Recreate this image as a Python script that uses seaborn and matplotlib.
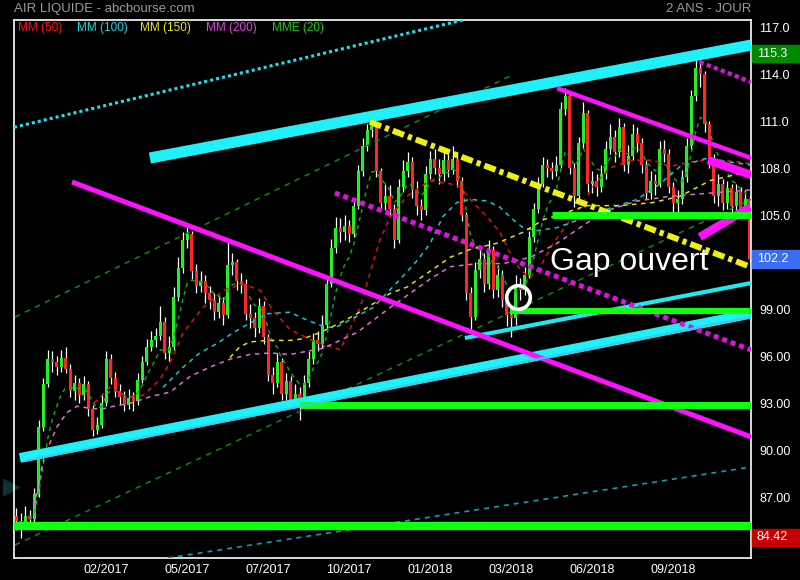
import numpy as np
import pandas as pd
import matplotlib
matplotlib.use("Agg")
import matplotlib.pyplot as plt
import matplotlib.transforms as mtransforms
from matplotlib.patches import Rectangle
import seaborn as sns

# one candle ~ 3 trading days, index 0..163
closes = [
    85.5, 85.2, 85.8, 85.6, 87.2, 91.5, 94.2, 95.8, 95.6, 95.3,
    95.9, 95.2, 93.8, 94.3, 93.5, 94.2, 92.6, 91.3, 91.6, 93.0,
    95.8, 94.6, 93.8, 93.4, 92.9, 93.3, 93.1, 94.5, 95.6, 96.6,
    97.0, 97.3, 98.2, 96.2, 96.6, 99.8, 101.6, 103.4, 103.8, 101.4,
    100.5, 100.8, 100.0, 99.6, 98.8, 99.4, 98.6, 101.8, 102.0, 100.8,
    100.6, 98.7, 98.4, 97.8, 99.2, 97.2, 94.8, 94.3, 95.6, 93.6,
    94.4, 93.2, 93.6, 93.0, 94.3, 95.8, 97.0, 96.8, 98.0, 100.6,
    102.9, 104.2, 103.9, 104.3, 103.8, 105.6, 107.8, 109.4, 110.4, 110.7,
    107.8, 105.8, 106.2, 105.4, 103.4, 106.8, 107.8, 108.4, 106.6, 105.6,
    105.3, 107.6, 108.6, 108.0, 107.6, 108.5, 107.9, 108.6, 107.2, 105.0,
    100.0, 98.5, 101.5, 102.2, 100.6, 102.8, 100.2, 101.2, 99.6, 98.6,
    98.4, 100.6, 100.2, 101.2, 103.6, 105.4, 107.0, 108.2, 108.0, 107.8,
    108.2, 111.8, 112.6, 108.0, 106.2, 109.6, 111.5, 107.0, 107.2, 106.8,
    107.6, 109.2, 110.0, 109.0, 110.6, 108.2, 108.8, 110.2, 109.6, 108.2,
    106.4, 107.2, 107.0, 109.2, 108.9, 106.8, 105.8, 106.0, 107.4, 109.4,
    112.6, 114.4, 114.0, 110.8, 108.6, 106.2, 107.0, 105.8, 106.7, 105.6,
    106.5, 105.4, 106.0, 102.2,
]
highs = [
    86.3, 86.0, 86.4, 86.2, 87.6, 91.9, 94.6, 96.4, 96.3, 96.0,
    96.4, 96.6, 95.5, 94.8, 94.6, 94.7, 94.4, 92.9, 92.1, 93.5,
    96.3, 96.1, 95.0, 94.2, 93.8, 93.9, 93.7, 94.9, 96.0, 97.1,
    97.6, 97.8, 99.2, 98.5, 97.3, 100.4, 102.3, 103.9, 104.5, 104.0,
    101.9, 101.4, 101.2, 100.5, 100.0, 99.9, 99.8, 103.3, 102.6, 102.2,
    101.3, 100.9, 99.3, 98.8, 99.7, 99.5, 97.4, 95.3, 96.2, 95.9,
    94.9, 94.7, 94.2, 94.0, 94.8, 96.3, 97.5, 97.6, 98.6, 101.1,
    103.5, 104.9, 104.8, 105.0, 104.7, 106.0, 108.2, 109.9, 110.8, 111.0,
    110.9, 108.0, 107.0, 106.9, 105.7, 107.3, 108.5, 109.0, 108.7, 107.2,
    106.0, 108.1, 109.1, 109.2, 108.6, 109.3, 108.9, 109.4, 108.9, 107.4,
    105.2, 100.4, 102.0, 103.0, 102.6, 103.4, 103.0, 101.8, 101.5, 100.0,
    99.2, 101.2, 101.0, 101.7, 104.0, 105.8, 107.4, 108.7, 108.6, 108.4,
    108.8, 112.2, 113.1, 112.8, 108.3, 110.0, 112.2, 111.7, 107.8, 107.6,
    108.2, 109.7, 110.8, 110.4, 111.2, 110.9, 109.5, 110.8, 110.6, 109.9,
    108.5, 107.8, 107.6, 109.7, 109.8, 109.2, 107.1, 106.6, 107.9, 109.9,
    113.0, 115.3, 114.9, 114.2, 111.0, 108.9, 107.6, 107.3, 107.2, 107.0,
    107.0, 106.8, 106.6, 106.2,
]
lows = [
    84.9, 84.4, 85.0, 85.1, 85.4, 87.0, 91.2, 94.0, 95.0, 94.8,
    95.0, 94.9, 93.4, 93.2, 93.0, 93.2, 92.2, 90.9, 91.0, 91.4,
    92.8, 94.2, 93.4, 92.9, 92.5, 92.6, 92.5, 92.9, 94.3, 95.4,
    96.3, 96.6, 97.0, 95.8, 95.7, 96.4, 99.5, 101.3, 102.9, 100.9,
    100.0, 100.1, 99.4, 99.0, 98.3, 98.4, 98.0, 98.4, 101.2, 100.2,
    100.0, 98.3, 97.8, 97.2, 97.5, 96.8, 94.4, 93.6, 94.0, 93.2,
    93.2, 92.7, 92.9, 91.9, 92.7, 94.0, 95.5, 96.3, 96.5, 97.8,
    100.4, 102.6, 103.3, 103.4, 103.3, 103.6, 105.4, 107.5, 109.1, 110.0,
    107.4, 105.3, 105.3, 104.9, 102.9, 103.2, 106.5, 107.4, 106.1, 105.0,
    104.7, 105.0, 107.3, 107.6, 107.0, 107.2, 107.4, 107.6, 106.8, 104.6,
    99.6, 97.7, 98.3, 101.0, 100.1, 100.3, 99.7, 99.8, 99.1, 97.9,
    97.2, 98.0, 99.6, 99.9, 101.0, 103.3, 105.1, 106.8, 107.4, 107.3,
    107.5, 108.0, 111.4, 107.6, 105.5, 105.9, 109.3, 106.5, 106.4, 106.2,
    106.5, 107.3, 108.9, 108.4, 108.7, 107.8, 107.7, 108.5, 109.0, 107.7,
    106.0, 106.0, 106.3, 106.8, 108.4, 106.4, 105.2, 104.8, 105.7, 107.1,
    109.2, 112.3, 113.2, 110.3, 108.0, 105.8, 105.6, 105.3, 105.4, 105.1,
    105.3, 104.9, 105.0, 102.0,
]
first_open = 85.8

# moving averages (candle index, price)
mm50_x = [17.3, 20.8, 24.6, 28.2, 31.9, 34.2, 37.1, 41.5, 46, 50.4, 54.2, 57.1, 60.8,
          66.4, 72, 76.4, 78.6, 80.8, 83.1, 86.8, 91.9, 96.4, 98.6, 101.5, 104.6,
          107.5, 109.7, 112, 114.2, 116.4, 119.3, 122.4, 125.3, 128.6, 131.9, 136.3,
          141.5, 145.3, 148.2, 152.6, 157.1, 163.1]
mm50_y = [93.0, 94.0, 93.4, 93.5, 94.5, 95.6, 97.5, 99.1, 100.2, 100.6, 100.2, 98.9, 97.7,
          96.9, 96.4, 99.1, 101.3, 103.4, 104.9, 106.2, 107.2, 107.0, 106.8, 105.8, 104.9,
          103.9, 102.6, 101.5, 101.0, 101.7, 103.2, 104.4, 105.5, 107.0, 108.0, 108.5,
          108.5, 108.1, 108.3, 108.5, 108.5, 108.3]
mm100_x = [32.6, 37.1, 40.8, 44.6, 48.2, 51.9, 55.7, 60.8, 64.6, 68.2, 70.8, 79.3, 85.3,
           89.1, 92, 94.8, 97.9, 100.8, 104.6, 107.5, 110.4, 112.6, 115.7, 120.2, 123.1,
           130.4, 138, 143.1, 147.5, 153.1, 163.1]
mm100_y = [94.0, 95.3, 96.2, 96.8, 97.5, 98.1, 98.7, 98.8, 98.3, 97.9, 97.8, 99.1, 100.9,
           102.1, 103.2, 104.9, 105.8, 106.0, 105.9, 105.5, 104.7, 104.2, 104.0, 104.2, 104.5,
           105.3, 106.0, 107.0, 108.1, 108.6, 108.2]
mm150_x = [47.5, 49.7, 51.9, 55.7, 60.8, 63.7, 67.5, 71.9, 75.7, 83.1, 86.8, 91.9, 96.4,
           100.8, 106.8, 112.6, 117.1, 121.5, 126.8, 134.2, 141.5, 147.5, 154.2, 163.1]
mm150_y = [95.9, 96.6, 96.9, 97.0, 97.0, 97.1, 97.5, 98.1, 98.7, 100.0, 100.4, 101.4, 102.3,
           102.8, 103.2, 103.9, 104.7, 105.1, 105.6, 105.6, 105.8, 106.2, 107.2, 107.8]
mm200_x = [3.9, 6.2, 7.7, 9.1, 11.3, 13.5, 15.7, 18.8, 21.7, 25.5, 29.7, 34.2, 38.6, 43.1,
           47.5, 51.9, 56.4, 60.8, 68.2, 75.7, 83.1, 91.9, 96.4, 102.4, 108.2, 114.2, 120.2,
           125.3, 130.4, 138, 145.3, 154.2, 163.1]
mm200_y = [86.4, 89.6, 90.6, 91.5, 92.4, 92.8, 92.7, 92.6, 92.8, 93.0, 93.4, 93.7, 94.7, 95.3,
           95.8, 96.1, 96.2, 96.1, 96.5, 97.5, 99.1, 100.9, 101.7, 101.9, 101.9, 102.3, 103.2,
           104.2, 105.2, 105.9, 106.2, 106.4, 106.6]

date_ticks = [20, 38, 56, 74, 92, 110, 128, 146]
date_labels = ["02/2017", "05/2017", "07/2017", "10/2017", "01/2018", "03/2018", "06/2018", "09/2018"]
price_ticks = [87, 90, 93, 96, 99, 105, 108, 111, 114, 117]
price_labels = ["87.00", "90.00", "93.00", "96.00", "99.00", "105.0", "108.0", "111.0", "114.0", "117.0"]

legend_names = ["MM (50)", "MM (100)", "MM (150)", "MM (200)", "MME (20)"]
legend_colors = ["#ff1010", "#10d8e0", "#e8e810", "#e040e0", "#10d010"]

# hand drawn lines: (x0, x1), (y0, y1)
cyan_top = ([29.7, 163.3], [108.64, 115.85])
cyan_dotted = ([-0.5, 100.0], [110.6, 117.5])
cyan_low_a = ([0.8, 163.3], [89.5, 98.7])
cyan_low_b = ([1.9, 163.3], [89.3, 98.5])
cyan_thin = ([99.7, 163.3], [97.15, 100.66])
teal_dashed = ([33.7, 163.3], [83.11, 88.92])
green_diag_a = ([-0.3, 109.7], [98.49, 113.87])
green_diag_b = ([-0.3, 163.3], [83.94, 106.0])
magenta_long = ([12.4, 163.3], [107.11, 90.84])
magenta_upper = ([120.2, 163.3], [113.1, 108.64])
magenta_dot_mid = ([70.8, 163.3], [106.41, 96.39])
magenta_dot_top = ([151.9, 163.3], [114.77, 113.49])
magenta_short = ([153.7, 163.3], [108.51, 107.56])
magenta_rise = ([151.9, 163.1], [103.6, 105.5])
yellow_dd = ([78.6, 163.3], [110.94, 101.68])
supports = [85.16, 92.88, 98.88, 105.0]
support_start = [-0.5, 63.1, 109.7, 119.0]

last_high, last_close, last_low = 115.3, 102.2, 84.42

sns.set_style("dark", rc={"axes.facecolor": "black", "figure.facecolor": "black"})
plt.rcParams["font.family"] = ["Liberation Sans", "DejaVu Sans"]

fig = plt.figure(figsize=(8, 5.8), dpi=100)
ax = fig.add_axes([14 / 800, 22 / 580, 737 / 800, 538 / 580])
ax.set_facecolor("black")

idx = np.arange(len(closes))
opens = np.array([first_open] + closes[:-1])
c = np.array(closes)
up = c >= opens
body_lo = np.minimum(opens, c)
body_h = np.maximum(np.abs(c - opens), 0.1)
ax.vlines(idx, lows, highs, color="white", lw=0.9, zorder=2)
ax.bar(idx, body_h, bottom=body_lo, width=0.72,
       color=np.where(up, "#22f022", "#ff2626"), zorder=2.5, linewidth=0)

# moving averages
ema20 = pd.Series(closes).ewm(span=7, adjust=False).mean()
sns.lineplot(x=idx[3:], y=ema20.values[3:], ax=ax, color="#10b010", lw=1.0,
             linestyle=(0, (3, 3)), zorder=3)
for xs, ys, col in [(mm50_x, mm50_y, "#e01010"), (mm100_x, mm100_y, "#10c8d0"),
                    (mm150_x, mm150_y, "#e0e010"), (mm200_x, mm200_y, "#e070d0")]:
    sns.lineplot(x=xs, y=ys, ax=ax, color=col, lw=1.1, linestyle=(0, (3, 3)), zorder=3)

def seg(line, **kw):
    ax.plot(line[0], line[1], solid_capstyle="butt", dash_capstyle="butt", **kw)

seg(green_diag_a, color="#109010", lw=1.0, linestyle=(0, (4, 4)), zorder=3)
seg(green_diag_b, color="#109010", lw=1.0, linestyle=(0, (4, 4)), zorder=3)
seg(teal_dashed, color="#10a0a8", lw=1.2, linestyle=(0, (3, 3)), zorder=3)
seg(cyan_dotted, color="#20e0f0", lw=2.2, linestyle=(0, (1, 1)), zorder=4)
seg(cyan_top, color="#20f0f8", lw=8, zorder=4)
seg(cyan_low_a, color="#20f0f8", lw=7, zorder=4)
seg(cyan_low_b, color="#40c8e8", lw=1.5, zorder=4.2)
seg(cyan_thin, color="#20e8f0", lw=3, zorder=4)
seg(magenta_long, color="#ff10ff", lw=3.6, zorder=4)
seg(magenta_upper, color="#ff10ff", lw=3.2, zorder=4)
seg(magenta_dot_mid, color="#e010e0", lw=3.6, linestyle=(0, (1, 0.8)), zorder=4)
seg(magenta_dot_top, color="#e010e0", lw=3.0, linestyle=(0, (1, 0.8)), zorder=4)
seg(magenta_short, color="#ff10ff", lw=6, zorder=4)
seg(magenta_rise, color="#ff10ff", lw=6, zorder=4)
seg(yellow_dd, color="#f0f010", lw=4.3, linestyle=(0, (2, 0.7, 0.7, 0.7)), zorder=4)
for lvl, x0, w in zip(supports, support_start, [6, 5, 4.5, 5]):
    ax.hlines(lvl, x0, 163.3, color="#10ff10", lw=w, zorder=4)

ax.plot([111.5], [99.77], marker="o", ms=17, mfc="none", mec="white", mew=2.6, zorder=5)
ax.text(118.6, 102.0, "Gap ouvert", color="white", fontsize=23, va="center", ha="left", zorder=6)
ax.plot([-1.2], [87.65], marker=">", ms=12, color="#0c3232", clip_on=False, zorder=1)

ax.set_xlim(-0.5, 163.28)
ax.set_ylim(83.11, 117.45)
ax.yaxis.tick_right()
ax.set_yticks(price_ticks)
ax.set_yticklabels(price_labels)
ax.set_xticks(date_ticks)
ax.set_xticklabels(date_labels)
ax.tick_params(axis="both", length=0, colors="white", labelsize=9)
ax.tick_params(axis="y", pad=6)
ax.tick_params(axis="x", pad=4)
ax.grid(False)
for sp in ax.spines.values():
    sp.set_visible(True)
    sp.set_color("white")
    sp.set_linewidth(1.2)

# last price boxes on the right scale
trans = mtransforms.blended_transform_factory(ax.transAxes, ax.transData)
for val, txt, col in [(last_high, "115.3", "#008a00"), (last_close, "102.2", "#3a6cf4"),
                      (last_low, "84.42", "#c40000")]:
    ax.add_patch(Rectangle((1.0015, val - 0.55), 0.066, 1.1, transform=trans,
                           color=col, clip_on=False, zorder=6))
    ax.text(1.008, val, txt, transform=trans, color="white", fontsize=9,
            va="center", ha="left", clip_on=False, zorder=7)

for name, col, xp in zip(legend_names, legend_colors, [0.005, 0.0855, 0.171, 0.2605, 0.35]):
    ax.text(xp, 0.986, name, transform=ax.transAxes, color=col, fontsize=8.5,
            va="center", ha="left", zorder=7)

fig.text(14 / 800, 1 - 9 / 580, "AIR LIQUIDE - abcbourse.com", color="#9a9a9a",
         fontsize=9.5, va="center", ha="left")
fig.text(751 / 800, 1 - 9 / 580, "2 ANS - JOUR", color="#9a9a9a",
         fontsize=9.5, va="center", ha="right")

fig.savefig("out.png", dpi=100, facecolor="black")
